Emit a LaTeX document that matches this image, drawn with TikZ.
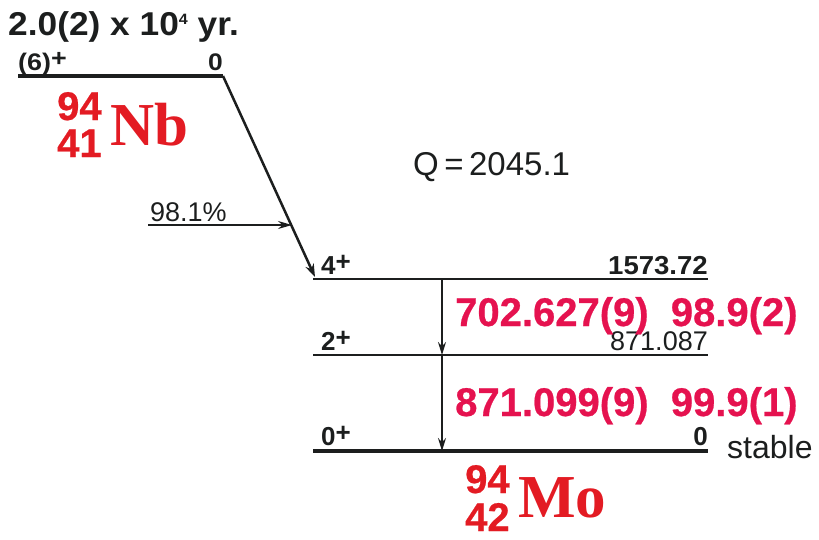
\documentclass[tikz,border=0pt]{standalone}
\usepackage{fontspec}
\setsansfont{Liberation Sans}
\newfontfamily\nucserif{Liberation Serif}
\newfontfamily\heavysans[FakeBold=0.6]{Liberation Sans Bold}
\usetikzlibrary{arrows.meta}
\definecolor{ink}{HTML}{1C1E1E}
\definecolor{nucred}{HTML}{E31B23}
\definecolor{gamred}{HTML}{E5124F}
\begin{document}
\begin{tikzpicture}[x=1pt,y=-1pt,
  txt/.style={inner sep=0pt,text=ink,font=\sffamily},
  toplbl/.style={inner sep=0pt,text=ink,font=\sffamily\bfseries\fontsize{24}{26}\selectfont},
  lvl/.style={inner sep=0pt,text=ink,font=\sffamily\bfseries\fontsize{26}{28}\selectfont},
  nucnum/.style={inner sep=0pt,text=nucred,font=\heavysans\fontsize{40}{40}\selectfont},
  nucsym/.style={inner sep=0pt,text=nucred,font=\nucserif\bfseries\fontsize{61}{61}\selectfont},
  gam/.style={inner sep=0pt,text=gamred,font=\heavysans\fontsize{40}{41}\selectfont},
  levelline/.style={draw=ink,line width=2pt},
  glevel/.style={draw=ink,line width=4pt},
  decay/.style={draw=ink,line width=2.5pt,-{Stealth[length=13pt,width=9pt]}},
  gray/.style={draw=ink,line width=1.6pt,-{Stealth[length=13pt,width=8pt]}},
  thinarrow/.style={draw=ink,line width=1.3pt,-{Stealth[length=14pt,width=8pt]}}]
\useasboundingbox (0,0) rectangle (819,539);
% title
\node[txt,anchor=base west,font=\sffamily\bfseries\fontsize{33}{35}\selectfont] (title) at (8,35) {\scalebox{1.07}[1]{2.0(2) x 10\raisebox{11pt}{\fontsize{15}{15}\selectfont 4} yr.}};
% parent level
\coordinate (pL) at (18,76);
\coordinate (pR) at (223,76);
\draw[glevel] (pL) -- (pR);
\node[toplbl,anchor=base west] (pspin) at (18,70) {\scalebox{1.12}[1]{(6)\raisebox{4pt}{+}}};
\node[toplbl,anchor=base east] (pen) at (223,70) {\scalebox{1.1}[1]{0}};
\node[nucnum,anchor=base west] (nbA) at (57,120) {94};
\node[nucnum,anchor=base west] (nbZ) at (57,157) {41};
\node[nucsym,anchor=base west] (nb) at (110,145) {Nb};
% Q value
\node[txt,anchor=base west,font=\sffamily\fontsize{33}{35}\selectfont] (q) at (413,175) {Q\,=\,2045.1};
% daughter levels
\coordinate (l4L) at (313,279);
\coordinate (l4R) at (708,279);
\coordinate (l2L) at (313,355);
\coordinate (l2R) at (708,355);
\coordinate (l0L) at (313,451);
\coordinate (l0R) at (708,451);
\draw[levelline] (l4L) -- (l4R);
\draw[levelline] (l2L) -- (l2R);
\draw[glevel] (l0L) -- (l0R);
\node[lvl,anchor=base west] (s4) at (321,274) {4\raisebox{4pt}{+}};
\node[lvl,anchor=base east] (e4) at (708,274) {\scalebox{1.06}[1]{1573.72}};
\node[lvl,anchor=base west] (s2) at (321,350) {2\raisebox{4pt}{+}};
\node[txt,anchor=base east,font=\sffamily\fontsize{27}{28}\selectfont] (e2) at (708,350) {871.087};
\node[lvl,anchor=base west] (s0) at (321,445) {0\raisebox{4pt}{+}};
\node[lvl,anchor=base east] (e0) at (708,445) {0};
\node[txt,anchor=base west,font=\sffamily\fontsize{32}{34}\selectfont] (stable) at (727,458) {stable};
% beta decay
\coordinate (bend) at (315,277);
\draw[decay] (pR) -- (bend);
\coordinate (brS) at (148,225);
\coordinate (brE) at (292,225);
\draw[thinarrow] (brS) -- (brE);
\node[txt,anchor=base west,font=\sffamily\fontsize{27}{28}\selectfont] (br) at (150,221) {98.1\%};
% gamma transitions
\coordinate (g1a) at (442,279);
\coordinate (g1b) at (442,355);
\coordinate (g2a) at (442,355);
\coordinate (g2b) at (442,451);
\draw[gray] (g1a) -- (g1b);
\draw[gray] (g2a) -- (g2b);
\node[gam,anchor=base west] (gam1) at (455,326) {702.627(9)\ \ 98.9(2)};
\node[gam,anchor=base west] (gam2) at (455,416) {871.099(9)\ \ 99.9(1)};
% daughter label
\node[nucnum,anchor=base west] (moA) at (465,493) {94};
\node[nucnum,anchor=base west] (moZ) at (465,531) {42};
\node[nucsym,anchor=base west] (mo) at (518,517) {Mo};
\end{tikzpicture}
\end{document}
